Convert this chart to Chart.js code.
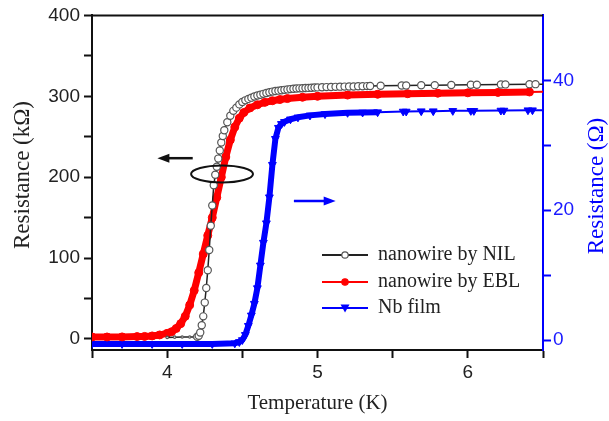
<!DOCTYPE html>
<html><head><meta charset="utf-8">
<script src="https://cdn.jsdelivr.net/npm/chart.js@4.4.0/dist/chart.umd.min.js"></script>
<style>html,body{margin:0;padding:0;background:#fff;}#wrap{width:609px;height:421px;}</style>
</head><body><div id="wrap"><canvas id="c" width="609" height="421"></canvas></div>
<script>
// ---- data ----
const nilT = [4.0,4.05,4.1,4.15,4.18,4.2,4.21,4.22,4.23,4.24,4.25,4.26,4.27,4.28,4.29,4.30,4.31,4.32,4.33,4.34,4.35,4.36,4.37,4.38,4.40,4.42,4.44,4.46,4.48,4.50,4.52,4.54,4.56,4.58,4.60,4.62,4.64,4.66,4.68,4.70,4.72,4.74,4.76,4.78,4.80,4.82,4.84,4.86,4.88,4.90,4.92,4.94,4.96,4.98,5.00,5.03,5.06,5.09,5.12,5.15,5.18,5.21,5.24,5.27,5.30,5.33,5.35,5.42,5.56,5.59,5.69,5.78,5.89,6.02,6.06,6.22,6.25,6.41,6.45,6.5];
const nilR = [2,2.3,2.5,2.5,2.5,2.8,4,8,17,28,45,63,85,110,140,165,190,203,213,223,233,243,251,258,268,276,282,286,290,293,295,296.8,298.3,299.7,301,302,303,304,305,305.8,306.5,307,307.5,308,308.5,308.9,309.3,309.6,309.8,310,310.2,310.4,310.6,310.8,311,311.2,311.4,311.5,311.7,311.9,312,312.1,312.2,312.4,312.5,312.6,312.7,313,313.3,313.4,313.6,313.8,314,314.2,314.3,314.6,314.7,315,315,315];
const eblT = [3.5,3.6,3.7,3.8,3.85,3.9,3.95,4.0,4.03,4.06,4.09,4.12,4.15,4.18,4.21,4.24,4.27,4.30,4.33,4.36,4.39,4.42,4.45,4.48,4.51,4.55,4.60,4.65,4.70,4.75,4.80,4.90,5.00,5.20,5.40,5.60,5.80,6.00,6.20,6.41,6.5];
const eblR = [2.5,2.5,2.6,3,3.2,3.8,5,7,9,13,19,28,42,60,82,105,128,150,175,200,225,246,262,273,280,285.5,289.5,292.5,294.5,296,297.2,298.8,300,301.5,302.5,303.2,303.8,304.3,304.8,305.3,305.5];
const nbT = [3.5,3.7,3.9,4.1,4.3,4.45,4.48,4.50,4.52,4.54,4.56,4.58,4.60,4.62,4.64,4.66,4.68,4.70,4.72,4.74,4.76,4.78,4.82,4.87,4.95,5.05,5.20,5.30,5.40,5.57,5.59,5.69,5.77,5.90,6.02,6.04,6.22,6.24,6.40,6.43,6.5];
const nbR = [-0.6,-0.6,-0.6,-0.6,-0.6,-0.5,-0.3,0,0.8,2.2,3.8,5.6,8,11.5,15,18,22,27,31,32.7,33.3,33.6,34,34.3,34.6,34.8,35,35.05,35.1,35.2,35.2,35.25,35.25,35.3,35.3,35.3,35.35,35.35,35.4,35.4,35.4];
const seriesNames = ['nanowire by NIL','nanowire by EBL','Nb film'];
const xTitle = 'Temperature (K)';
const yLeftTitle = 'Resistance (k\u03A9)';
const yRightTitle = 'Resistance (\u03A9)';

// annotation anchors (data units: x in K, y in kΩ)
const arrowL = {from:4.17, to:3.935, y:223.5};
const arrowR = {from:4.843, to:5.121, y:170.7};
const ring = {x:4.365, y:204, rx:0.206, ry:10.5};

const toPts = (t, r) => t.map((v, i) => ({x: v, y: r[i]}));
const BLUE = '#0000ff';
const tickFont = {family: '"Liberation Sans", Arial, sans-serif', size: 19};
const SERIF = '"Liberation Serif", "Times New Roman", serif';

const decor = {
  id: 'decor',
  afterDraw(chart) {
    const {ctx, chartArea: a, scales} = chart;
    const X = v => scales.x.getPixelForValue(v);
    const Y = v => scales.y.getPixelForValue(v);
    ctx.save();
    // top frame line
    ctx.strokeStyle = '#111'; ctx.lineWidth = 2;
    ctx.beginPath(); ctx.moveTo(a.left - 1, a.top); ctx.lineTo(a.right, a.top); ctx.stroke();
    // ellipse
    const cx = X(ring.x), cy = Y(ring.y);
    const rx = X(ring.x + ring.rx) - cx, ry = cy - Y(ring.y + ring.ry);
    ctx.lineWidth = 2; ctx.strokeStyle = '#111';
    ctx.beginPath(); ctx.ellipse(cx, cy, rx, ry, 0, 0, Math.PI * 2); ctx.stroke();
    // arrows
    const arrow = (x1, x2, y, col) => {
      const dir = Math.sign(x2 - x1);
      ctx.strokeStyle = col; ctx.fillStyle = col; ctx.lineWidth = 2.5;
      ctx.beginPath(); ctx.moveTo(x1, y); ctx.lineTo(x2 - dir * 8, y); ctx.stroke();
      ctx.beginPath(); ctx.moveTo(x2, y); ctx.lineTo(x2 - dir * 12, y - 4.5); ctx.lineTo(x2 - dir * 12, y + 4.5); ctx.closePath(); ctx.fill();
    };
    arrow(X(arrowL.from), X(arrowL.to), Y(arrowL.y), '#111');
    arrow(X(arrowR.from), X(arrowR.to), Y(arrowR.y), BLUE);
    // legend
    const lx0 = 322, lx1 = 368, tx = 378, rows = [255, 282, 308];
    chart.data.datasets.forEach((ds, i) => {
      const y = rows[i], mx = (lx0 + lx1) / 2;
      ctx.strokeStyle = ds.borderColor; ctx.lineWidth = 2;
      ctx.beginPath(); ctx.moveTo(lx0, y); ctx.lineTo(lx1, y); ctx.stroke();
      ctx.fillStyle = ds.pointBackgroundColor; ctx.strokeStyle = ds.pointBorderColor; ctx.lineWidth = 1.2;
      if (i === 2) {
        ctx.beginPath(); ctx.moveTo(mx - 4.5, y - 3.5); ctx.lineTo(mx + 4.5, y - 3.5); ctx.lineTo(mx, y + 4.5); ctx.closePath(); ctx.fill();
      } else {
        ctx.beginPath(); ctx.arc(mx, y, 3.2, 0, Math.PI * 2); ctx.fill(); ctx.stroke();
      }
      ctx.fillStyle = '#222'; ctx.font = '20px ' + SERIF; ctx.textAlign = 'left'; ctx.textBaseline = 'middle';
      ctx.fillText(ds.label, tx, y);
    });
    // axis titles
    ctx.textAlign = 'center'; ctx.textBaseline = 'middle';
    ctx.fillStyle = '#222'; ctx.font = '21px ' + SERIF;
    ctx.fillText(xTitle, (a.left + a.right) / 2, 403);
    ctx.save(); ctx.translate(23, 175); ctx.rotate(-Math.PI / 2); ctx.font = '23px ' + SERIF; ctx.fillText(yLeftTitle, 0, 0); ctx.restore();
    ctx.save(); ctx.translate(597, 186); ctx.rotate(-Math.PI / 2); ctx.fillStyle = BLUE; ctx.font = '23px ' + SERIF; ctx.fillText(yRightTitle, 0, 0); ctx.restore();
    ctx.restore();
  }
};

new Chart(document.getElementById('c'), {
  type: 'line',
  data: {
    datasets: [
      {label: seriesNames[0], data: toPts(nilT, nilR), yAxisID: 'y',
       borderColor: '#222', borderWidth: 1.5, pointStyle: 'circle',
       pointRadius: c => !c.raw ? 3.6 : (c.raw.x >= 6.49 ? 0 : (c.raw.x < 4.19 ? 1.2 : 3.6)),
       pointBackgroundColor: '#fff', pointBorderColor: '#555', pointBorderWidth: 1.2},
      {label: seriesNames[1], data: toPts(eblT, eblR), yAxisID: 'y',
       borderColor: '#ff0000', borderWidth: 7, borderJoinStyle: 'round',
       segment: {borderWidth: c => c.p1.parsed.x > 6.45 ? 2 : 7},
       pointStyle: 'circle', pointRadius: c => (c.raw && c.raw.x >= 6.49) ? 0 : 4,
       pointBackgroundColor: '#ff0000', pointBorderColor: '#ff0000', pointBorderWidth: 1},
      {label: seriesNames[2], data: toPts(nbT, nbR), yAxisID: 'y2',
       borderColor: BLUE, borderWidth: 6, borderJoinStyle: 'round',
       segment: {borderWidth: c => c.p1.parsed.x > 5.42 ? 2 : 6},
       pointStyle: 'triangle', pointRotation: 180,
       pointRadius: c => (c.raw && c.raw.x >= 6.49) ? 0 : 4.5,
       pointBackgroundColor: BLUE, pointBorderColor: BLUE, pointBorderWidth: 1}
    ]
  },
  options: {
    responsive: false, animation: false, devicePixelRatio: 1,
    layout: {padding: {top: 15, left: 0, right: 0, bottom: 0}},
    plugins: {legend: {display: false}, tooltip: {enabled: false}},
    elements: {line: {tension: 0}},
    scales: {
      x: {type: 'linear', position: 'bottom', min: 3.5, max: 6.5,
        afterFit: s => { s.height = 71; },
        ticks: {stepSize: 0.5, includeBounds: false, autoSkip: false, maxRotation: 0, padding: 3, color: '#222', font: tickFont,
          callback: v => Number.isInteger(v) ? String(v) : ''},
        grid: {drawOnChartArea: false, drawTicks: true, tickLength: 8, tickWidth: 2, tickColor: '#111'},
        border: {display: true, color: '#111', width: 2}},
      y: {type: 'linear', position: 'left', min: -13.6, max: 400,
        afterFit: s => { s.width = 92; },
        ticks: {stepSize: 50, includeBounds: false, autoSkip: false, padding: 4, color: '#222', font: tickFont,
          callback: v => v % 100 === 0 ? String(v) : ''},
        grid: {drawOnChartArea: false, drawTicks: true, tickLength: 8, tickWidth: 2, tickColor: '#111'},
        border: {display: true, color: '#111', width: 2}},
      y2: {type: 'linear', position: 'right', min: -1.54, max: 50,
        afterFit: s => { s.width = 66; },
        ticks: {stepSize: 10, includeBounds: false, autoSkip: false, padding: 2, color: '#1a1aff', font: tickFont,
          callback: v => v % 20 === 0 && v < 50 ? String(v) : ''},
        grid: {drawOnChartArea: false, drawTicks: true, tickLength: 8, tickWidth: 2,
          tickColor: c => (c.tick && c.tick.value >= 50) ? 'rgba(0,0,0,0)' : BLUE},
        border: {display: true, color: BLUE, width: 2}}
    }
  },
  plugins: [decor]
});
</script>
</body></html>
